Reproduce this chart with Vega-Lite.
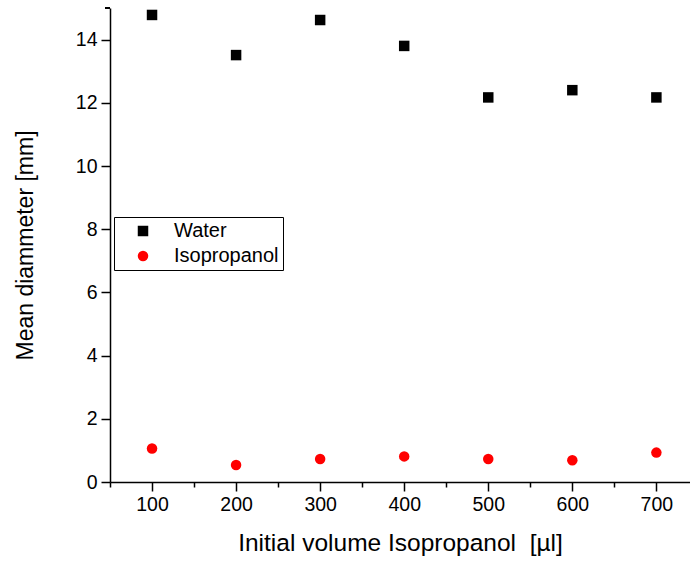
{
  "$schema": "https://vega.github.io/schema/vega-lite/v6.json",
  "autosize": {"type": "none"},
  "padding": {"left": 110, "top": 8, "right": 0, "bottom": 81},
  "width": 580,
  "height": 474,
  "background": "white",
  "config": {
    "view": {"stroke": null},
    "font": "Liberation Sans"
  },
  "data": {
    "values": [
      {"volume": 100, "diameter": 14.78, "series": "Water"},
      {"volume": 200, "diameter": 13.51, "series": "Water"},
      {"volume": 300, "diameter": 14.62, "series": "Water"},
      {"volume": 400, "diameter": 13.8, "series": "Water"},
      {"volume": 500, "diameter": 12.17, "series": "Water"},
      {"volume": 600, "diameter": 12.4, "series": "Water"},
      {"volume": 700, "diameter": 12.17, "series": "Water"},
      {"volume": 100, "diameter": 1.06, "series": "Isopropanol"},
      {"volume": 200, "diameter": 0.54, "series": "Isopropanol"},
      {"volume": 300, "diameter": 0.73, "series": "Isopropanol"},
      {"volume": 400, "diameter": 0.81, "series": "Isopropanol"},
      {"volume": 500, "diameter": 0.73, "series": "Isopropanol"},
      {"volume": 600, "diameter": 0.69, "series": "Isopropanol"},
      {"volume": 700, "diameter": 0.93, "series": "Isopropanol"}
    ]
  },
  "layer": [
    {
      "mark": {"type": "rule", "color": "black", "strokeWidth": 1.5, "x": -5},
      "encoding": {"y": {"datum": 15, "type": "quantitative"}}
    },
    {
      "mark": {"type": "point", "filled": true, "opacity": 1, "size": 110},
      "encoding": {
        "x": {
          "field": "volume",
          "type": "quantitative",
          "scale": {"domain": [50, 740], "nice": false, "zero": false},
          "axis": {
            "title": "Initial volume Isopropanol\u00a0 [µl]",
            "values": [50, 100, 150, 200, 250, 300, 350, 400, 450, 500, 550, 600, 650, 700],
            "labelExpr": "datum.value % 100 === 0 ? datum.label : ''",
            "tickSize": {"condition": {"test": "datum.value % 100 === 0", "value": 9}, "value": 5},
            "domainColor": "black",
            "domainWidth": 1.5,
            "tickColor": "black",
            "tickWidth": 1.5,
            "grid": false,
            "labelColor": "black",
            "labelFont": "Liberation Sans",
            "labelFontSize": 19.5,
            "titleFont": "Liberation Sans",
            "titleFontSize": 24.5,
            "titleFontWeight": "normal",
            "titleColor": "black",
            "labelPadding": 4,
            "titlePadding": 18,
            "labelFlush": false,
            "labelOverlap": false
          }
        },
        "y": {
          "field": "diameter",
          "type": "quantitative",
          "scale": {"domain": [0, 15], "nice": false},
          "axis": {
            "title": "Mean diammeter [mm]",
            "values": [0, 1, 2, 3, 4, 5, 6, 7, 8, 9, 10, 11, 12, 13, 14],
            "labelExpr": "datum.value % 2 === 0 ? datum.label : ''",
            "tickSize": {"condition": {"test": "datum.value % 2 === 0", "value": 9}, "value": 5},
            "domainColor": "black",
            "domainWidth": 1.5,
            "tickColor": "black",
            "tickWidth": 1.5,
            "grid": false,
            "labelColor": "black",
            "labelFont": "Liberation Sans",
            "labelFontSize": 19.5,
            "titleFont": "Liberation Sans",
            "titleFontSize": 23,
            "titleFontWeight": "normal",
            "titleColor": "black",
            "labelPadding": 4,
            "titlePadding": 38,
            "labelFlush": false,
            "labelOverlap": false
          }
        },
        "color": {
          "field": "series",
          "type": "nominal",
          "scale": {"domain": ["Water", "Isopropanol"], "range": ["black", "red"]},
          "legend": {
            "title": null,
            "orient": "none",
            "legendX": 4,
            "legendY": 209,
            "strokeColor": "black",
            "padding": 4,
            "rowPadding": 5,
            "symbolOffset": 15,
            "labelOffset": 21,
            "symbolSize": 110,
            "symbolStrokeWidth": 0,
            "labelFont": "Liberation Sans",
            "labelFontSize": 20,
            "labelColor": "black"
          }
        },
        "shape": {
          "field": "series",
          "type": "nominal",
          "scale": {"domain": ["Water", "Isopropanol"], "range": ["square", "circle"]},
          "legend": null
        }
      }
    }
  ]
}
